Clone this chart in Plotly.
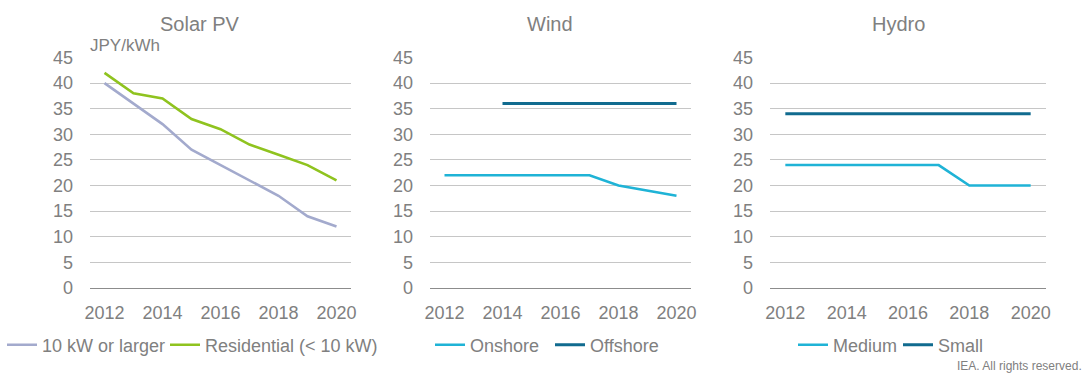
import plotly.graph_objects as go

# Feed-in tariff levels, JPY/kWh
years = [2012, 2013, 2014, 2015, 2016, 2017, 2018, 2019, 2020]

pv_large = [40, 36, 32, 27, 24, 21, 18, 14, 12]
pv_residential = [42, 38, 37, 33, 31, 28, 26, 24, 21]

wind_onshore = [22, 22, 22, 22, 22, 22, 20, 19, 18]
wind_offshore = [None, None, 36, 36, 36, 36, 36, 36, 36]

hydro_medium = [24, 24, 24, 24, 24, 24, 20, 20, 20]
hydro_small = [34, 34, 34, 34, 34, 34, 34, 34, 34]

panel_titles = ["Solar PV", "Wind", "Hydro"]
y_ticks = [0, 5, 10, 15, 20, 25, 30, 35, 40, 45]
x_ticks = [2012, 2014, 2016, 2018, 2020]

W, H = 1083, 373
FONT = "Liberation Sans, Arial, sans-serif"
GREY = "#808080"

LAVENDER = "#a3aacd"
GREEN = "#8fc31f"
CYAN = "#1fb3d6"
TEAL = "#116b8f"

# panel plot areas in pixels (left, right)
panels_px = [(90, 351), (430, 691), (770, 1046)]
y_top_px, y_bot_px = 57.5, 288

fig = go.Figure()

# (panel, name, values, colour, width, legend id, legend line start px)
series = [
    (1, "10 kW or larger", pv_large, LAVENDER, 2.6, "legend", 12),
    (1, "Residential (< 10 kW)", pv_residential, GREEN, 2.6, "legend2", 175),
    (2, "Onshore", wind_onshore, CYAN, 2.6, "legend3", 440),
    (2, "Offshore", wind_offshore, TEAL, 3.0, "legend4", 560),
    (3, "Medium", hydro_medium, CYAN, 2.6, "legend5", 803),
    (3, "Small", hydro_small, TEAL, 3.0, "legend6", 908),
]

layout = dict(
    width=W, height=H,
    margin=dict(l=0, r=0, t=0, b=0, autoexpand=False),
    paper_bgcolor="white", plot_bgcolor="white",
    font=dict(family=FONT, color=GREY, size=18),
    showlegend=True,
)

for panel, name, vals, color, lw, leg, lx in series:
    sfx = "" if panel == 1 else str(panel)
    fig.add_trace(go.Scatter(
        x=years, y=vals, name=name, mode="lines",
        line=dict(color=color, width=lw),
        xaxis="x" + sfx, yaxis="y" + sfx, legend=leg,
        connectgaps=False, showlegend=True,
    ))
    layout[leg] = dict(
        orientation="h", x=(lx - 10) / W, xanchor="left", y=1 - 345 / H,
        yanchor="middle", bgcolor="rgba(0,0,0,0)",
        font=dict(size=18, color=GREY, family=FONT),
        itemwidth=30, visible=True,
    )

for i, (l, r) in enumerate(panels_px):
    sfx = "" if i == 0 else str(i + 1)
    layout["xaxis" + sfx] = dict(
        domain=[l / W, r / W], range=[2011.5, 2020.5],
        tickvals=x_ticks, ticks="", showgrid=False, zeroline=False,
        showline=False, anchor="y" + sfx, fixedrange=True,
        ticklabelstandoff=12,
        tickfont=dict(size=18, color=GREY, family=FONT),
    )
    layout["yaxis" + sfx] = dict(
        domain=[1 - y_bot_px / H, 1 - y_top_px / H], range=[0, 45],
        tickvals=y_ticks, ticks="", showgrid=True, gridcolor="#c6c6c6",
        gridwidth=1.3, zeroline=True, zerolinecolor="#8c8c8c",
        zerolinewidth=1.3, showline=False, anchor="x" + sfx,
        ticklabelstandoff=16, fixedrange=True,
        tickfont=dict(size=18, color=GREY, family=FONT),
    )

title_px = [200, 550, 898]
annotations = []
for t, px in zip(panel_titles, title_px):
    annotations.append(dict(
        text=t, x=px / W, y=1 - 24 / H, xref="paper", yref="paper",
        xanchor="center", yanchor="middle", showarrow=False,
        font=dict(size=20, color=GREY, family=FONT),
    ))
annotations.append(dict(
    text="JPY/kWh", x=88 / W, y=1 - 46 / H, xref="paper", yref="paper",
    xanchor="left", yanchor="middle", showarrow=False,
    font=dict(size=17, color=GREY, family=FONT),
))
annotations.append(dict(
    text="IEA. All rights reserved.", x=1084 / W, y=1 - 366 / H,
    xref="paper", yref="paper", xanchor="right", yanchor="middle",
    showarrow=False, font=dict(size=12, color=GREY, family=FONT),
))
layout["annotations"] = annotations

fig.update_layout(**layout)
fig.write_html("out.html")
